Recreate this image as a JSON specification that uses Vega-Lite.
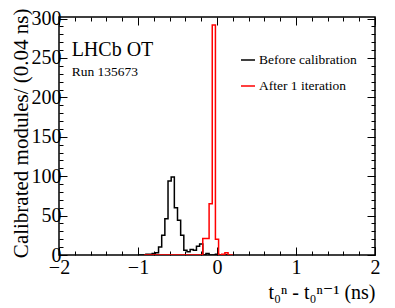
{
  "$schema": "https://vega.github.io/schema/vega-lite/v6.json",
  "width": 316,
  "height": 238,
  "autosize": "none",
  "padding": {"left": 59, "top": 17, "right": 20, "bottom": 53},
  "background": "white",
  "config": {
    "view": {"stroke": "black", "strokeWidth": 1.5},
    "font": "Liberation Serif, Times New Roman, DejaVu Serif, serif",
    "style": {
      "guide-label": {"font": "Liberation Serif, Times New Roman, DejaVu Serif, serif", "fill": "black"},
      "guide-title": {"font": "Liberation Serif, Times New Roman, DejaVu Serif, serif", "fill": "black", "fontWeight": "normal"}
    },
    "axis": {"grid": false, "domain": false, "tickColor": "black", "tickWidth": 1, "labelColor": "black", "titleColor": "black", "titleFontWeight": "normal"},
    "text": {"font": "Liberation Serif, Times New Roman, DejaVu Serif, serif"}
  },
  "datasets": {
    "hist": [
      {"x": -1.00, "n": 0, "s": "Before calibration"},
      {"x": -0.96, "n": 0, "s": "Before calibration"},
      {"x": -0.92, "n": 0, "s": "Before calibration"},
      {"x": -0.88, "n": 1, "s": "Before calibration"},
      {"x": -0.84, "n": 1, "s": "Before calibration"},
      {"x": -0.80, "n": 2, "s": "Before calibration"},
      {"x": -0.76, "n": 3, "s": "Before calibration"},
      {"x": -0.72, "n": 10, "s": "Before calibration"},
      {"x": -0.68, "n": 25, "s": "Before calibration"},
      {"x": -0.64, "n": 46, "s": "Before calibration"},
      {"x": -0.60, "n": 94, "s": "Before calibration"},
      {"x": -0.56, "n": 99, "s": "Before calibration"},
      {"x": -0.52, "n": 60, "s": "Before calibration"},
      {"x": -0.48, "n": 44, "s": "Before calibration"},
      {"x": -0.44, "n": 25, "s": "Before calibration"},
      {"x": -0.40, "n": 6, "s": "Before calibration"},
      {"x": -0.36, "n": 4, "s": "Before calibration"},
      {"x": -0.32, "n": 7, "s": "Before calibration"},
      {"x": -0.28, "n": 6, "s": "Before calibration"},
      {"x": -0.24, "n": 11, "s": "Before calibration"},
      {"x": -0.20, "n": 14, "s": "Before calibration"},
      {"x": -0.16, "n": 0, "s": "Before calibration"},
      {"x": -0.12, "n": 2, "s": "Before calibration"},
      {"x": -0.08, "n": 0, "s": "Before calibration"},
      {"x": -0.04, "n": 0, "s": "Before calibration"},
      {"x": 0.00, "n": 1, "s": "Before calibration"},
      {"x": 0.04, "n": 0, "s": "Before calibration"},
      {"x": 0.08, "n": 0, "s": "Before calibration"},
      {"x": 0.12, "n": 0, "s": "Before calibration"},
      {"x": 0.16, "n": 0, "s": "Before calibration"},
      {"x": -0.92, "n": 0, "s": "After 1 iteration"},
      {"x": -0.88, "n": 0, "s": "After 1 iteration"},
      {"x": -0.60, "n": 0, "s": "After 1 iteration"},
      {"x": -0.20, "n": 0, "s": "After 1 iteration"},
      {"x": -0.16, "n": 21, "s": "After 1 iteration"},
      {"x": -0.12, "n": 21, "s": "After 1 iteration"},
      {"x": -0.08, "n": 65, "s": "After 1 iteration"},
      {"x": -0.04, "n": 292, "s": "After 1 iteration"},
      {"x": 0.00, "n": 20, "s": "After 1 iteration"},
      {"x": 0.04, "n": 0, "s": "After 1 iteration"},
      {"x": 0.08, "n": 1, "s": "After 1 iteration"},
      {"x": 0.12, "n": 3, "s": "After 1 iteration"},
      {"x": 0.16, "n": 0, "s": "After 1 iteration"},
      {"x": 0.20, "n": 0, "s": "After 1 iteration"}
    ]
  },
  "resolve": {"axis": {"x": "independent", "y": "independent"}},
  "layer": [
    {
      "data": {"name": "hist"},
      "mark": {"type": "line", "interpolate": "step", "strokeWidth": 1.5, "clip": true},
      "encoding": {
        "x": {
          "field": "x", "type": "quantitative",
          "scale": {"domain": [-2, 2], "nice": false, "zero": false},
          "axis": {
            "orient": "bottom",
            "values": [-2,-1.8,-1.6,-1.4,-1.2,-1,-0.8,-0.6,-0.4,-0.2,0,0.2,0.4,0.6,0.8,1,1.2,1.4,1.6,1.8,2],
            "tickSize": {"condition": {"test": "abs(datum.value - round(datum.value)) < 0.001", "value": -8}, "value": -4},
            "labelExpr": "abs(datum.value - round(datum.value)) < 0.001 ? (datum.value < 0 ? '\u2212' + abs(datum.value) : '' + datum.value) : ''",
            "labelFont": "Liberation Serif, Times New Roman, DejaVu Serif, serif",
            "labelFontSize": 20,
            "labelPadding": 10,
            "labelFlush": false,
            "labelOverlap": false,
            "title": "t\u2080\u207f - t\u2080\u207f\u207b\u00b9 (ns)",
            "titleFont": "Liberation Serif, Times New Roman, DejaVu Serif, serif",
            "titleFontSize": 20,
            "titleAnchor": "end",
            "titleBaseline": "alphabetic",
            "titleY": 43
          }
        },
        "y": {
          "field": "n", "type": "quantitative",
          "scale": {"domain": [0, 302], "nice": false},
          "axis": {
            "orient": "left",
            "values": [0,10,20,30,40,50,60,70,80,90,100,110,120,130,140,150,160,170,180,190,200,210,220,230,240,250,260,270,280,290,300],
            "tickSize": {"condition": {"test": "datum.value % 50 === 0", "value": -8}, "value": -4},
            "labelExpr": "datum.value % 50 === 0 ? '' + datum.value : ''",
            "labelFont": "Liberation Serif, Times New Roman, DejaVu Serif, serif",
            "labelFontSize": 20,
            "labelPadding": 6,
            "labelFlush": false,
            "labelOverlap": false,
            "title": "Calibrated modules/ (0.04 ns)",
            "titleFont": "Liberation Serif, Times New Roman, DejaVu Serif, serif",
            "titleFontSize": 21,
            "titleAnchor": "end",
            "titleBaseline": "alphabetic",
            "titleX": -32,
            "titleY": -9
          }
        },
        "color": {
          "field": "s", "type": "nominal",
          "scale": {"domain": ["Before calibration", "After 1 iteration"], "range": ["black", "red"]},
          "legend": {
            "orient": "none", "legendX": 181, "legendY": 35, "title": null,
            "symbolType": "stroke", "symbolSize": 196, "symbolStrokeWidth": 1.5,
            "labelFont": "Liberation Serif, Times New Roman, DejaVu Serif, serif",
            "labelFontSize": 13.5, "labelColor": "black",
            "labelOffset": 3, "rowPadding": 11, "padding": 0
          }
        }
      }
    },
    {
      "data": {"values": [{}]},
      "mark": {"type": "text", "fontSize": 20, "align": "left", "baseline": "alphabetic", "text": "LHCb OT"},
      "encoding": {
        "x": {"datum": -1.84, "type": "quantitative", "axis": {
            "orient": "top", "labels": false, "title": null,
            "values": [-2,-1.8,-1.6,-1.4,-1.2,-1,-0.8,-0.6,-0.4,-0.2,0,0.2,0.4,0.6,0.8,1,1.2,1.4,1.6,1.8,2],
            "tickSize": {"condition": {"test": "abs(datum.value - round(datum.value)) < 0.001", "value": -8}, "value": -4}
        }},
        "y": {"datum": 252, "type": "quantitative", "axis": {
            "orient": "right", "labels": false, "title": null,
            "values": [0,10,20,30,40,50,60,70,80,90,100,110,120,130,140,150,160,170,180,190,200,210,220,230,240,250,260,270,280,290,300],
            "tickSize": {"condition": {"test": "datum.value % 50 === 0", "value": -8}, "value": -4}
        }}
      }
    },
    {
      "data": {"values": [{}]},
      "mark": {"type": "text", "fontSize": 13.5, "align": "left", "baseline": "alphabetic", "text": "Run 135673"},
      "encoding": {
        "x": {"datum": -1.84, "type": "quantitative", "axis": null},
        "y": {"datum": 227, "type": "quantitative", "axis": null}
      }
    }
  ]
}
